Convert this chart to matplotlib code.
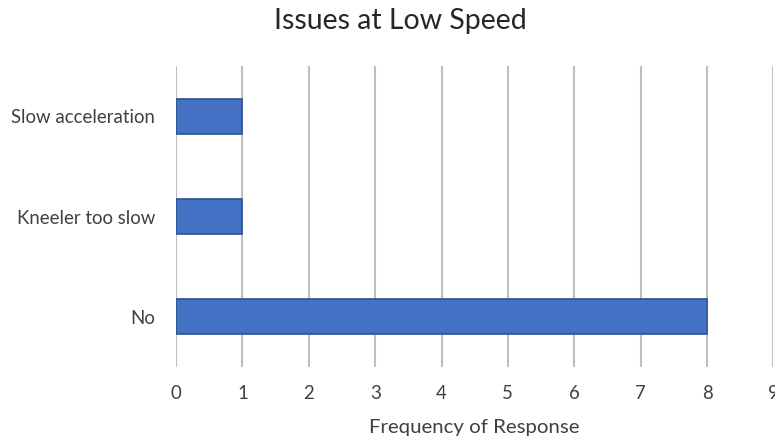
import matplotlib
matplotlib.use("Agg")
import matplotlib.pyplot as plt

categories = ["No", "Kneeler too slow", "Slow acceleration"]
values = [8, 1, 1]
xticks = list(range(0, 10))

plt.rcParams['font.family'] = ['Lato', 'DejaVu Sans']

fig = plt.figure(figsize=(7.75, 4.41), dpi=100)
ax = fig.add_axes([176/775, 1-367/441, (773.4-176)/775, (367-66)/441])

ax.barh(range(len(categories)), values, height=0.35, color="#4472C4",
        edgecolor="#2F528F", linewidth=1.2, zorder=3)
ax.set_xlim(0, 9)
ax.set_ylim(-0.5, len(categories)-0.5)
ax.set_yticks(range(len(categories)))
ax.set_yticklabels(categories, fontsize=13.4, color="#404040")
ax.set_xticks(xticks)
ax.set_xticklabels([str(t) for t in xticks], fontsize=13.4, color="#404040")
ax.tick_params(length=0, pad=15, axis='y')
ax.tick_params(length=0, pad=13, axis='x')
for s in ax.spines.values():
    s.set_visible(False)
ax.grid(axis='x', color="#BFBFBF", linewidth=1.5, zorder=0)
ax.set_axisbelow(True)
ax.set_xlabel("Frequency of Response", fontsize=14.7, color="#404040", labelpad=12)
fig.text(400/775, 1-21/441, "Issues at Low Speed", fontsize=20.5, color="#262626",
         ha='center', va='center')
fig.savefig("out.png", dpi=100)
